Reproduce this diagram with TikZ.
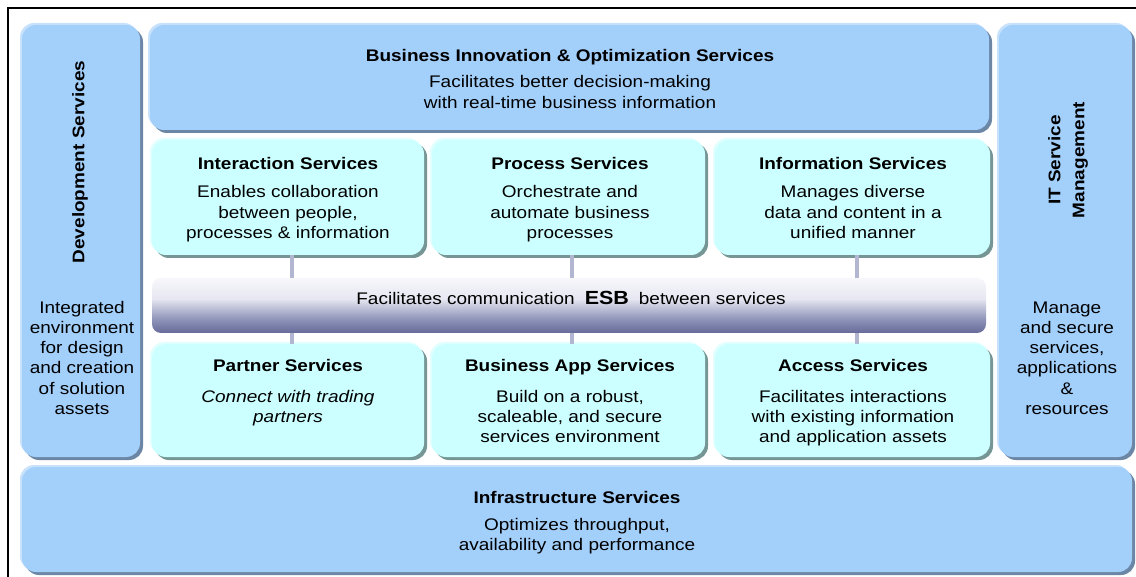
\documentclass[tikz,border=0pt]{standalone}
\usepackage{fontspec}
\setmainfont{Liberation Sans}[FakeStretch=1.13]
\usetikzlibrary{shadows}
\definecolor{boxblue}{RGB}{163,207,251}
\definecolor{blueHL}{RGB}{200,226,252}
\definecolor{blueSH}{RGB}{108,134,165}
\definecolor{boxcyan}{RGB}{204,255,255}
\definecolor{cyanHL}{RGB}{226,255,255}
\definecolor{cyanSH}{RGB}{118,150,150}
\definecolor{connc}{RGB}{178,182,208}
\definecolor{esbA}{RGB}{208,210,228}
\definecolor{esbB}{RGB}{122,126,168}
\definecolor{esbC}{RGB}{92,96,146}
\definecolor{esbD}{RGB}{144,149,186}
\definecolor{esbE}{RGB}{230,231,241}
\definecolor{esbF}{RGB}{250,250,253}
\definecolor{esbG}{RGB}{216,218,232}
\definecolor{esbH}{RGB}{184,187,212}
\pgfdeclareverticalshading{esbshade}{100bp}{color(0bp)=(white); color(4bp)=(esbA); color(12bp)=(esbB); color(22bp)=(esbC); color(38bp)=(esbD); color(56bp)=(esbE); color(78bp)=(esbF); color(93bp)=(esbG); color(100bp)=(esbH)}
\tikzset{
  bluebox/.style={rectangle, rounded corners=14pt, inner sep=0pt, fill=boxblue,
    general shadow={fill=blueHL, shadow xshift=-2pt, shadow yshift=2pt},
    general shadow={fill=blueSH, shadow xshift=3pt, shadow yshift=-3pt}},
  cyanbox/.style={rectangle, rounded corners=14pt, inner sep=0pt, fill=boxcyan,
    general shadow={fill=cyanHL, shadow xshift=-2pt, shadow yshift=2pt},
    general shadow={fill=cyanSH, shadow xshift=3pt, shadow yshift=-3pt}},
  ttl/.style={font=\bfseries\fontsize{16.8}{20.3}\selectfont, anchor=base, inner sep=0pt},
  body/.style={font=\fontsize{16.8}{20.3}\selectfont, align=center, anchor=base, inner sep=0pt},
  conn/.style={draw=connc, line width=4pt},
}
\begin{document}
\begin{tikzpicture}[x=1pt,y=-1pt]
\useasboundingbox (0,0) rectangle (1136,577);
\fill[white] (0,0) rectangle (1136,577);
\draw[line width=1.3pt] (8,577) -- (8,8) -- (1136,8);

% side and top/bottom bands
\node[bluebox, minimum width=118, minimum height=432] (dev) at (81,241) {};
\node[bluebox, minimum width=839, minimum height=105] (bio) at (569.5,77.5) {};
\node[bluebox, minimum width=133, minimum height=432] (itsm) at (1065.5,241) {};
\node[bluebox, minimum width=1110, minimum height=105] (infra) at (577,519.5) {};

% service boxes
\node[cyanbox, minimum width=272, minimum height=115] (inter) at (288,197.5) {};
\node[cyanbox, minimum width=273, minimum height=115] (proc) at (568.5,197.5) {};
\node[cyanbox, minimum width=275, minimum height=115] (info) at (852.5,197.5) {};
\node[cyanbox, minimum width=272, minimum height=113] (part) at (288,400.5) {};
\node[cyanbox, minimum width=273, minimum height=113] (bapp) at (568.5,400.5) {};
\node[cyanbox, minimum width=275, minimum height=113] (acc) at (852.5,400.5) {};

% ESB
\node[shade, shading=esbshade, rounded corners=9pt, minimum width=834, minimum height=55, inner sep=0pt] (esb) at (569,305.5) {};
\node[font=\fontsize{16.8}{20.3}\selectfont, anchor=base, inner sep=0pt] (esbt) at (571,305)
  {Facilitates communication\hspace{10pt}{\bfseries\fontsize{19}{20}\selectfont ESB}\hspace{10pt}between services};

% connectors
\draw[conn] ([xshift=4pt]inter.south) -- ([xshift=4pt]inter.south |- esb.north);
\draw[conn] ([xshift=3.5pt]proc.south) -- ([xshift=3.5pt]proc.south |- esb.north);
\draw[conn] ([xshift=4.5pt]info.south) -- ([xshift=4.5pt]info.south |- esb.north);
\draw[conn] ([xshift=4pt]part.north) -- ([xshift=4pt]part.north |- esb.south);
\draw[conn] ([xshift=3.5pt]bapp.north) -- ([xshift=3.5pt]bapp.north |- esb.south);
\draw[conn] ([xshift=4.5pt]acc.north) -- ([xshift=4.5pt]acc.north |- esb.south);

% texts (body nodes are anchored at the baseline of their last line)
\node[ttl] (biot) at (570,62) {Business Innovation \& Optimization Services};
\node[body] (biob) at (570,108.3) {Facilitates better decision-making\\with real-time business information};

\node[ttl] (intert) at (288,170) {Interaction Services};
\node[body] (interb) at (288,238.6) {Enables collaboration\\between people,\\processes \& information};
\node[ttl] (proct) at (570,170) {Process Services};
\node[body] (procb) at (570,238.6) {Orchestrate and\\automate business\\processes};
\node[ttl] (infot) at (853,170) {Information Services};
\node[body] (infob) at (853,238.6) {Manages diverse\\data and content in a\\unified manner};

\node[ttl] (partt) at (288,372) {Partner Services};
\node[body, font=\itshape\fontsize{16.8}{20.3}\selectfont] (partb) at (288,422.3) {Connect with trading\\partners};
\node[ttl] (bappt) at (570,372) {Business App Services};
\node[body] (bappb) at (570,442.6) {Build on a robust,\\scaleable, and secure\\services environment};
\node[ttl] (acct) at (853,372) {Access Services};
\node[body] (accb) at (853,442.6) {Facilitates interactions\\with existing information\\and application assets};

\node[ttl] (infrat) at (577,503) {Infrastructure Services};
\node[body] (infrab) at (577,550.3) {Optimizes throughput,\\availability and performance};

\node[ttl, rotate=90, anchor=center] (devt) at (80,162) {Development Services};
\node[body] (devb) at (82,414.5) {Integrated\\environment\\for design\\and creation\\of solution\\assets};

\node[ttl, rotate=90, anchor=center, align=center, font=\bfseries\fontsize{16.8}{24}\selectfont] (itsmt) at (1068,160) {IT Service\\Management};
\node[body] (itsmb) at (1067,414.5) {Manage\\and secure\\services,\\applications\\\&\\resources};
\end{tikzpicture}
\end{document}
